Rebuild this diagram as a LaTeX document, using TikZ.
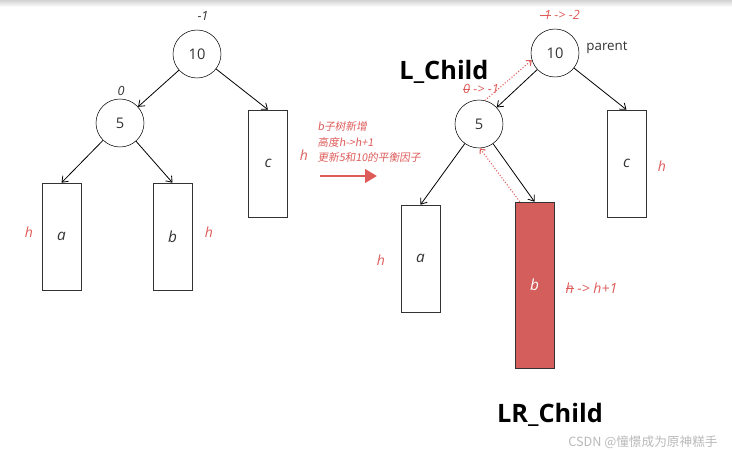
\documentclass[tikz,border=0pt]{standalone}
\usepackage{fontspec}
\setmainfont{Open Sans}
\newfontfamily\cjk[FakeSlant=0.15]{Noto Sans CJK SC}
\newfontfamily\cjkup{Noto Sans CJK SC}
\usetikzlibrary{arrows.meta}
\definecolor{markred}{RGB}{221,92,90}
\definecolor{boxred}{RGB}{211,94,91}
\definecolor{boxline}{RGB}{51,51,51}
\newsavebox\strkbox
\newcommand\strk[1]{\sbox\strkbox{#1}\rlap{\raisebox{0.4\ht\strkbox}{\rule{\wd\strkbox}{0.5pt}}}\usebox\strkbox}

\tikzset{
  tnode/.style={circle,draw,minimum size=36pt,inner sep=0pt,text=boxline,font=\fontsize{11}{13}\selectfont},
  tbox/.style={draw=boxline,minimum width=29.25pt,minimum height=80.25pt,inner sep=0pt,text=boxline,font=\fontsize{11.5}{13}\selectfont\itshape},
  hlabel/.style={text=markred,font=\fontsize{10.5}{12}\selectfont\itshape},
  bflabel/.style={text=boxline,font=\fontsize{9.5}{11}\selectfont\itshape},
  edge/.style={-{Straight Barb[length=4pt,width=6pt]},line width=0.6pt},
  dotedge/.style={markred,dash pattern=on 0.8pt off 1.4pt,line width=0.8pt,-{Straight Barb[length=3pt,width=5pt]}},
  bigtitle/.style={font=\fontsize{19}{22}\selectfont\bfseries},
}

\begin{document}
\begin{tikzpicture}[x=0.75pt,y=0.75pt,yscale=-1,xscale=1]
    \useasboundingbox (0,0) rectangle (732,456);
    \shade[top color=gray!35,bottom color=white] (0,0) rectangle (732,7);

    % left tree
    \node[tnode] (L10) at (197,54) {10};
    \node[tnode] (L5) at (120,123) {5};
    \node[tbox] (La) at (61.5,236.5) {a};
    \node[tbox] (Lb) at (172.5,236.5) {b};
    \node[tbox] (Lc) at (268,163.5) {c};
    \draw[edge] (L10) -- (L5);
    \draw[edge] (L10) -- (Lc.north);
    \draw[edge] (L5) -- (La.north);
    \draw[edge] (L5) -- (Lb.north);

    \node[bflabel] (Lbf10) at (203,16) {-1};
    \node[bflabel] (Lbf5) at (121,91) {0};
    \node[hlabel] (Lha) at (29,232) {h};
    \node[hlabel] (Lhb) at (209,232) {h};
    \node[hlabel] (Lhc) at (304,155) {h};

    % middle note
    \node[anchor=west,align=left,text=markred,font=\cjk\fontsize{8}{11.6}\selectfont] (note) at (313,142) {b子树新增\\高度h->h+1\\更新5和10的平衡因子};
    \coordinate (goL) at (320,176);
    \coordinate (goR) at (377,176);
    \draw[markred,line width=2.2pt,-{Triangle[length=9pt,width=10pt]}] (goL) -- (goR);

    % right tree
    \node[tnode] (R10) at (555,53) {10};
    \node[tnode] (R5) at (479,124) {5};
    \node[tbox] (Ra) at (420.5,258.5) {a};
    \node[tbox,fill=boxred,text=white,minimum height=124.5pt] (Rb) at (534.5,285) {b};
    \node[tbox] (Rc) at (626.5,163.5) {c};
    \draw[edge] (R10) -- (R5);
    \draw[edge] (R10) -- (Rc.north);
    \draw[edge] (R5) -- (Ra.north);
    \draw[edge] (R5) -- (Rb.north);
    \draw[dotedge] (R5.76) -- (R10.197);
    \draw[dotedge] (Rb.100) -- (R5.272);

    \node[bflabel,text=markred] (Rbf10) at (560,15) {\strk{-1} -> -2};
    \node[bflabel,text=markred] (Rbf5) at (481,89) {\strk{0} -> -1};
    \node[font=\fontsize{10}{12}\selectfont,text=boxline] (par) at (607,48) {parent};
    \node[hlabel] (Rha) at (381,260) {h};
    \node[hlabel,anchor=west] (Rhb) at (561,288) {\strk{h} -> h+1};
    \node[hlabel] (Rhc) at (662,166) {h};

    \node[bigtitle] (lc) at (444,72) {L\_Child};
    \node[bigtitle] (lrc) at (550,415) {LR\_Child};
    \node[text=gray!55,font=\cjkup\fontsize{9.5}{11}\selectfont] (mark) at (643,442) {CSDN @憧憬成为原神糕手};
\end{tikzpicture}
\end{document}
